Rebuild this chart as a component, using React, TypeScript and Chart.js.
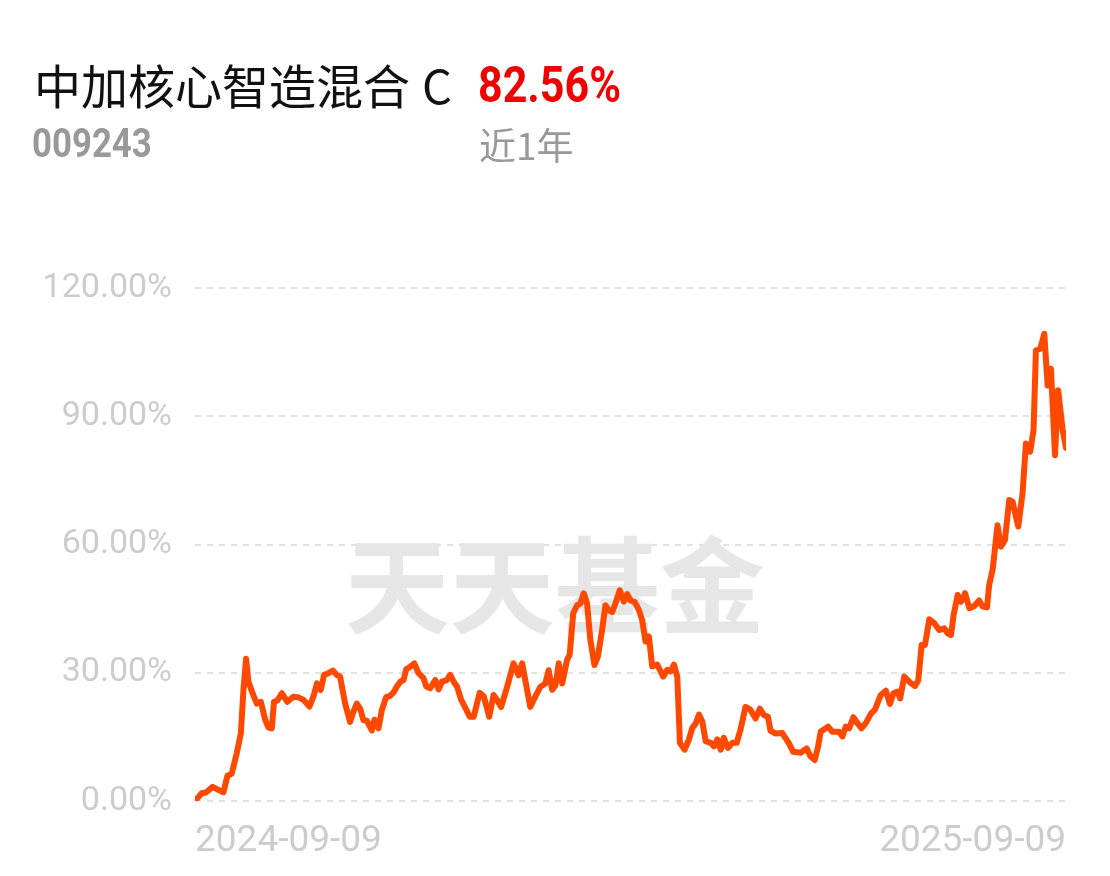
import React, { useEffect, useRef } from "react";
import { Chart, registerables } from "chart.js";

Chart.register(...registerables);

const fundNameMain = "中加核心智造混合";
const fundNameClass = "C";
const fundCode = "009243";
const periodReturn = "82.56%";
const periodLabel = "近1年";
const watermarkText = "天天基金";

const xTickLabels = ["2024-09-09", "2025-09-09"];
const xTickDays = [0, 365];

const yTicks = [0, 30, 60, 90, 120];

// days since 2024-09-09
const dayOffsets = [
  0, 2.8, 4.6, 7.4, 9.8, 11.9, 13.6, 15.4, 17.5, 19.2, 20.3, 21.4, 22.4, 24.2, 25.9, 27.6, 29.4, 30.8, 32.2, 33.1,
  34.5, 36.4, 38.7, 41.2, 42.9, 45.4, 48.0, 49.6, 51.1, 52.7, 54.1, 55.9, 57.8, 59.4, 60.8, 62.9, 65.0, 66.4, 67.8,
  69.2, 70.6, 72.0, 74.1, 75.2, 76.9, 78.3, 80.1, 81.8, 83.2, 84.6, 86.0, 87.4, 88.5, 90.2, 91.9, 93.7, 95.8, 96.9,
  98.6, 100.7, 102.1, 103.5, 105.3, 107.0, 108.4, 109.8, 111.5, 113.3, 115.1, 116.8, 119.3, 121.0, 123.3, 125.1,
  126.6, 128.3, 130.8, 133.5, 135.6, 137.1, 140.5, 142.6, 144.7, 146.8, 148.2, 149.7, 151.1, 152.4, 153.9, 155.9,
  157.0, 158.5, 160.1, 161.5, 162.9, 164.3, 165.7, 167.4, 168.8, 170.6, 172.0, 173.4, 174.8, 176.2, 178.0, 179.7,
  181.1, 182.5, 184.2, 186.0, 187.4, 188.8, 190.2, 191.6, 193.7, 196.2, 197.9, 199.3, 200.7, 202.1, 203.2, 205.2,
  207.0, 208.4, 209.8, 211.2, 212.6, 214.0, 216.1, 217.5, 218.9, 220.3, 221.6, 223.3, 225.2, 227.0, 228.6, 230.7,
  232.8, 234.9, 236.7, 238.4, 240.1, 241.2, 243.3, 246.1, 248.9, 250.7, 253.8, 256.3, 258.0, 259.7, 261.1, 262.2,
  265.3, 267.1, 269.9, 271.3, 272.7, 274.1, 275.9, 277.6, 279.3, 281.1, 283.2, 284.9, 287.4, 289.5, 291.2, 292.7,
  294.4, 295.5, 297.2, 299.7, 301.7, 303.1, 304.5, 305.9, 307.7, 309.8, 311.9, 314.0, 315.4, 316.8, 317.9, 319.6,
  321.0, 322.7, 324.5, 326.6, 328.6, 330.1, 331.9, 332.8, 334.3, 336.3, 337.7, 339.4, 341.2, 342.6, 345.0, 346.8,
  348.2, 350.0, 351.4, 352.4, 354.2, 355.9, 357.3, 358.7, 360.4, 361.7, 363.6, 365.0,
];

// cumulative return, %
const returnsPct = [
  0, 1.8, 2.0, 3.3, 2.6, 2.0, 5.9, 6.4, 11.2, 15.8, 25.9, 33.3, 27.9, 25.1, 22.8, 23.2, 19.0, 17.2, 17.0, 23.2,
  23.5, 25.2, 23.2, 24.4, 24.3, 23.7, 22.1, 24.4, 27.5, 26.0, 29.5, 29.9, 30.5, 29.5, 29.1, 22.8, 18.5, 20.9, 22.8,
  21.6, 18.9, 18.8, 16.5, 19.0, 17.0, 21.3, 24.3, 24.6, 25.4, 26.8, 27.9, 28.3, 30.8, 31.4, 32.2, 29.9, 28.7, 26.8,
  26.4, 28.3, 26.1, 27.9, 28.2, 29.5, 27.9, 26.8, 23.7, 21.8, 19.7, 19.7, 25.3, 24.5, 19.7, 24.8,
  23.6, 22.0, 26.7, 32.2, 29.4, 32.2, 22.0, 24.4, 26.7, 27.5, 30.6, 26.0, 27.1, 32.2, 27.5, 33.0,
  34.2, 43.9, 45.8, 46.2, 48.6, 46.2, 37.6, 31.8, 33.7, 40.0, 45.8, 44.6, 44.2, 46.2, 49.3, 46.6,
  48.4, 46.9, 46.6, 44.7, 42.3, 37.3, 38.5, 31.5, 31.9, 29.1, 30.7, 30.3, 31.9, 29.1, 13.6, 12.0,
  14.4, 17.1, 18.1, 20.2, 18.6, 14.0, 13.6, 12.8, 14.4, 12.0, 14.8, 12.4, 13.6, 13.6, 16.7, 22.0,
  21.3, 19.3, 21.6, 20.1, 19.7, 16.4, 15.8, 15.9, 13.5, 11.5, 11.3, 12.3, 10.4, 9.6, 12.7, 16.2,
  17.4, 16.2, 16.2, 15.1, 17.4, 17.0, 19.6, 18.2, 17.0, 18.2, 20.4, 21.3, 24.8, 25.8, 22.7, 25.2,
  25.6, 24.0, 29.1, 27.7, 26.9, 28.2, 36.5, 36.5, 42.5, 41.6, 40.0, 40.4, 39.2, 38.8, 43.5, 48.2,
  46.6, 48.6, 45.1, 45.6, 46.9, 45.5, 45.3, 50.5, 54.3, 64.5, 59.5, 61.0, 70.4, 70.0, 64.2, 72.0,
  83.6, 81.7, 86.8, 105.4, 105.8, 109.3, 97.2, 101.1, 80.9, 96.1, 86.8, 82.56,
];

const watermarkPlugin = {
  id: "watermark",
  beforeDatasetsDraw(chart: any) {
    const { ctx, chartArea } = chart;
    ctx.save();
    ctx.font = 'bold 105px "Noto Sans CJK SC"';
    ctx.fillStyle = "#e6e6e6";
    ctx.textAlign = "center";
    ctx.textBaseline = "middle";
    const cx = chartArea.left + (chartArea.right - chartArea.left) * 0.413;
    const cy = chartArea.top + (chartArea.bottom - chartArea.top) * 0.58;
    ctx.fillText(watermarkText, cx, cy);
    ctx.restore();
  },
};

function FundChart() {
  const canvasRef = useRef<HTMLCanvasElement | null>(null);

  useEffect(() => {
    if (!canvasRef.current) return;
    const chart = new Chart(canvasRef.current, {
      type: "line",
      data: {
        datasets: [
          {
            data: dayOffsets.map((d, i) => ({ x: d, y: returnsPct[i] })),
            borderColor: "#ff4800",
            borderWidth: 6,
            pointRadius: 0,
            tension: 0,
            borderJoinStyle: "round",
            borderCapStyle: "round",
            fill: false,
          },
        ],
      },
      options: {
        animation: false,
        responsive: false,
        layout: { padding: { top: 288, right: 44, bottom: 0, left: 0 } },
        plugins: { legend: { display: false }, tooltip: { enabled: false } },
        scales: {
          x: {
            type: "linear",
            min: 0,
            max: 365,
            grid: { display: false, drawTicks: false },
            border: { display: false },
            afterBuildTicks: (s: any) => {
              s.ticks = xTickDays.map((v) => ({ value: v }));
            },
            afterFit: (s: any) => {
              s.height = 75;
            },
            ticks: {
              autoSkip: false,
              maxRotation: 0,
              align: "inner",
              padding: 19,
              color: "#cccccc",
              font: { family: "Roboto", size: 37 },
              callback: (v: any) => {
                const idx = xTickDays.indexOf(Number(v));
                return idx >= 0 ? xTickLabels[idx] : "";
              },
            },
          },
          y: {
            min: 0,
            max: 120,
            afterBuildTicks: (s: any) => {
              s.ticks = yTicks.map((v) => ({ value: v }));
            },
            afterFit: (s: any) => {
              s.width = 195;
            },
            grid: {
              drawTicks: false,
              color: "#e2e2e2",
              lineWidth: 2,
            },
            border: { display: false, dash: [6, 6] },
            ticks: {
              padding: 23,
              color: "#cccccc",
              font: { family: "Roboto", size: 34 },
              callback: (v: any) => Number(v).toFixed(2) + "%",
            },
          },
        },
      },
      plugins: [watermarkPlugin],
    } as any);
    return () => chart.destroy();
  }, []);

  return (
    <canvas
      ref={canvasRef}
      width={1110}
      height={876}
      style={{ position: "absolute", left: 0, top: 0, width: 1110, height: 876 }}
    />
  );
}

export default function App() {
  return (
    <div
      style={{
        position: "fixed",
        left: 0,
        top: 0,
        width: 1110,
        height: 876,
        background: "#ffffff",
        overflow: "hidden",
      }}
    >
      <FundChart />
      <div
        style={{
          position: "absolute",
          left: 34,
          top: 60,
          fontFamily: '"Noto Sans CJK SC"',
          fontSize: 47,
          lineHeight: 1,
          color: "#111111",
          whiteSpace: "nowrap",
        }}
      >
        {fundNameMain}
        <span style={{ marginLeft: 12 }}>{fundNameClass}</span>
      </div>
      <div
        style={{
          position: "absolute",
          left: 478,
          top: 60,
          fontFamily: "Roboto",
          fontWeight: 700,
          fontSize: 50,
          lineHeight: 1,
          color: "#f00000",
          whiteSpace: "nowrap",
          transform: "scaleX(0.86)",
          transformOrigin: "left top",
        }}
      >
        {periodReturn}
      </div>
      <div
        style={{
          position: "absolute",
          left: 32,
          top: 124,
          fontFamily: "Roboto",
          fontWeight: 700,
          fontSize: 40,
          lineHeight: 1,
          color: "#999999",
          whiteSpace: "nowrap",
          transform: "scaleX(0.87)",
          transformOrigin: "left top",
        }}
      >
        {fundCode}
      </div>
      <div
        style={{
          position: "absolute",
          left: 479,
          top: 126,
          fontFamily: '"Noto Sans CJK SC"',
          fontSize: 37,
          lineHeight: 1,
          color: "#999999",
          whiteSpace: "nowrap",
        }}
      >
        {periodLabel}
      </div>
    </div>
  );
}
